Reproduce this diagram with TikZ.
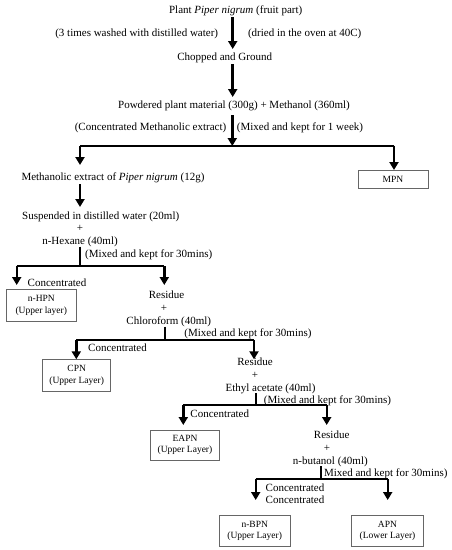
\documentclass[tikz,border=0pt]{standalone}
\usepackage{fontspec}
\setmainfont{Liberation Serif}
\usetikzlibrary{arrows.meta}
\begin{document}
\begin{tikzpicture}[x=1pt,y=-1pt,
  txt/.style={inner sep=0pt,anchor=base,yshift=-0.3pt,font=\fontsize{11}{13}\selectfont},
  resbox/.style={draw=black!60,line width=0.8pt,inner sep=0pt,align=center,font=\fontsize{9.5}{11.5}\selectfont},
  bigarrow/.style={line width=2.6pt,-{Triangle[width=9pt,length=8pt]}},
  branch/.style={line width=2pt},
  harrow/.style={line width=2.4pt,-{Triangle[width=9pt,length=8pt]}}]
\useasboundingbox (0,0) rectangle (452,550);
% texts (anchor base = visual centre + 3.5)
\node[txt] (t0) at (235.7,13) {Plant \textit{Piper nigrum} (fruit part)};
\node[txt] (l1) at (136.7,36.5) {(3 times washed with distilled water)};
\node[txt] (r1) at (304.7,36.5) {(dried in the oven at 40C)};
\node[txt] (t1) at (224.7,60.2) {Chopped and Ground};
\node[txt] (t2) at (234,108.5) {Powdered plant material (300g) + Methanol (360ml)};
\node[txt] (l2) at (150.5,130.5) {(Concentrated Methanolic extract)};
\node[txt] (r2) at (300,130.5) {(Mixed and kept for 1 week)};
\node[txt] (t3) at (113,180.2) {Methanolic extract of \textit{Piper nigrum} (12g)};
\node[resbox,minimum width=70pt,minimum height=17.6pt] (mpn) at (393,179.5) {MPN};
\node[txt] (t4) at (100.7,219.5) {Suspended in distilled water (20ml)};
\node[txt] (p4) at (80,231.5) {+};
\node[txt] (t5) at (80,244.2) {n-Hexane (40ml)};
\node[txt] (r5) at (148.7,257.5) {(Mixed and kept for 30mins)};
\node[txt] (c5) at (57,285.8) {Concentrated};
\node[resbox,minimum width=69.3pt,minimum height=32.4pt] (nhpn) at (41.3,305.5) {n-HPN\\(Upper layer)};
\node[txt] (t6) at (166.5,298.5) {Residue};
\node[txt] (p6) at (164,310.8) {+};
\node[txt] (t7) at (168.8,324.2) {Chloroform (40ml)};
\node[txt] (r7) at (248,336.2) {(Mixed and kept for 30mins)};
\node[txt] (c7) at (117.5,350.8) {Concentrated};
\node[resbox,minimum width=68pt,minimum height=31.7pt] (cpn) at (76.7,375.2) {CPN\\(Upper Layer)};
\node[txt] (t8) at (255,365.2) {Residue};
\node[txt] (p8) at (255,378.5) {+};
\node[txt] (t9) at (270.5,391.2) {Ethyl acetate (40ml)};
\node[txt] (r9) at (327.5,403.5) {(Mixed and kept for 30mins)};
\node[txt] (c9) at (219.8,417.5) {Concentrated};
\node[resbox,minimum width=68.6pt,minimum height=30pt] (eapn) at (185,445) {EAPN\\(Upper Layer)};
\node[txt] (t10) at (331.7,438.5) {Residue};
\node[txt] (p10) at (327,450.8) {+};
\node[txt] (t11) at (330.3,464.2) {n-butanol (40ml)};
\node[txt] (r11) at (385.8,476.2) {Mixed and kept for 30mins)};
\node[txt] (c11) at (295,490.8) {Concentrated};
\node[txt] (c12) at (295,503.5) {Concentrated};
\node[resbox,minimum width=70.7pt,minimum height=31.7pt] (nbpn) at (254.7,530.8) {n-BPN\\(Upper Layer)};
\node[resbox,minimum width=71.6pt,minimum height=31.7pt] (apn) at (387.5,530.8) {APN\\(Lower Layer)};
% coordinates
\coordinate (a1s) at (232.7,17);   \coordinate (a1e) at (232.7,49);
\coordinate (a2s) at (232.7,64);   \coordinate (a2e) at (232.7,97);
\coordinate (a3s) at (232.3,115);  \coordinate (a3e) at (232.3,146);
\coordinate (h1l) at (80,145.7);   \coordinate (h1r) at (394,145.7);
\coordinate (h1le) at (80,165);    \coordinate (h1re) at (394,170);
\coordinate (a4s) at (80,184);     \coordinate (a4e) at (80,207);
\coordinate (v5s) at (80,246.7);   \coordinate (v5e) at (80,266);
\coordinate (h5l) at (16.7,266);   \coordinate (h5r) at (164.3,266);
\coordinate (h5le) at (16.7,285);  \coordinate (h5re) at (164.3,285);
\coordinate (v7s) at (165,326.7);  \coordinate (v7e) at (165,340);
\coordinate (h7l) at (76.3,340);   \coordinate (h7r) at (254,340);
\coordinate (h7le) at (76.3,359.3);\coordinate (h7re) at (254,359.3);
\coordinate (v9s) at (255.7,393);  \coordinate (v9e) at (255.7,405);
\coordinate (h9l) at (183.3,405);  \coordinate (h9r) at (326.7,405);
\coordinate (h9le) at (183.3,425); \coordinate (h9re) at (326.7,425);
\coordinate (v11s) at (321,466);   \coordinate (v11e) at (321,479.3);
\coordinate (h11l) at (255.7,479.3); \coordinate (h11r) at (387.7,479.3);
\coordinate (h11le) at (255.7,500);  \coordinate (h11re) at (387.7,500);
% connectors
\draw[bigarrow] (a1s) -- (a1e);
\draw[bigarrow] (a2s) -- (a2e);
\draw[bigarrow] (a3s) -- (a3e);
\draw[branch] (h1l) -- (h1r);
\draw[harrow] (h1l) -- (h1le);
\draw[harrow] (h1r) -- (h1re);
\draw[bigarrow] (a4s) -- (a4e);
\draw[branch] (v5s) -- (v5e);
\draw[branch] (h5l) -- (h5r);
\draw[harrow] (h5l) -- (h5le);
\draw[harrow] (h5r) -- (h5re);
\draw[branch] (v7s) -- (v7e);
\draw[branch] (h7l) -- (h7r);
\draw[harrow] (h7l) -- (h7le);
\draw[harrow] (h7r) -- (h7re);
\draw[branch] (v9s) -- (v9e);
\draw[branch] (h9l) -- (h9r);
\draw[harrow] (h9l) -- (h9le);
\draw[harrow] (h9r) -- (h9re);
\draw[branch] (v11s) -- (v11e);
\draw[branch] (h11l) -- (h11r);
\draw[harrow] (h11l) -- (h11le);
\draw[harrow] (h11r) -- (h11re);
\end{tikzpicture}
\end{document}
